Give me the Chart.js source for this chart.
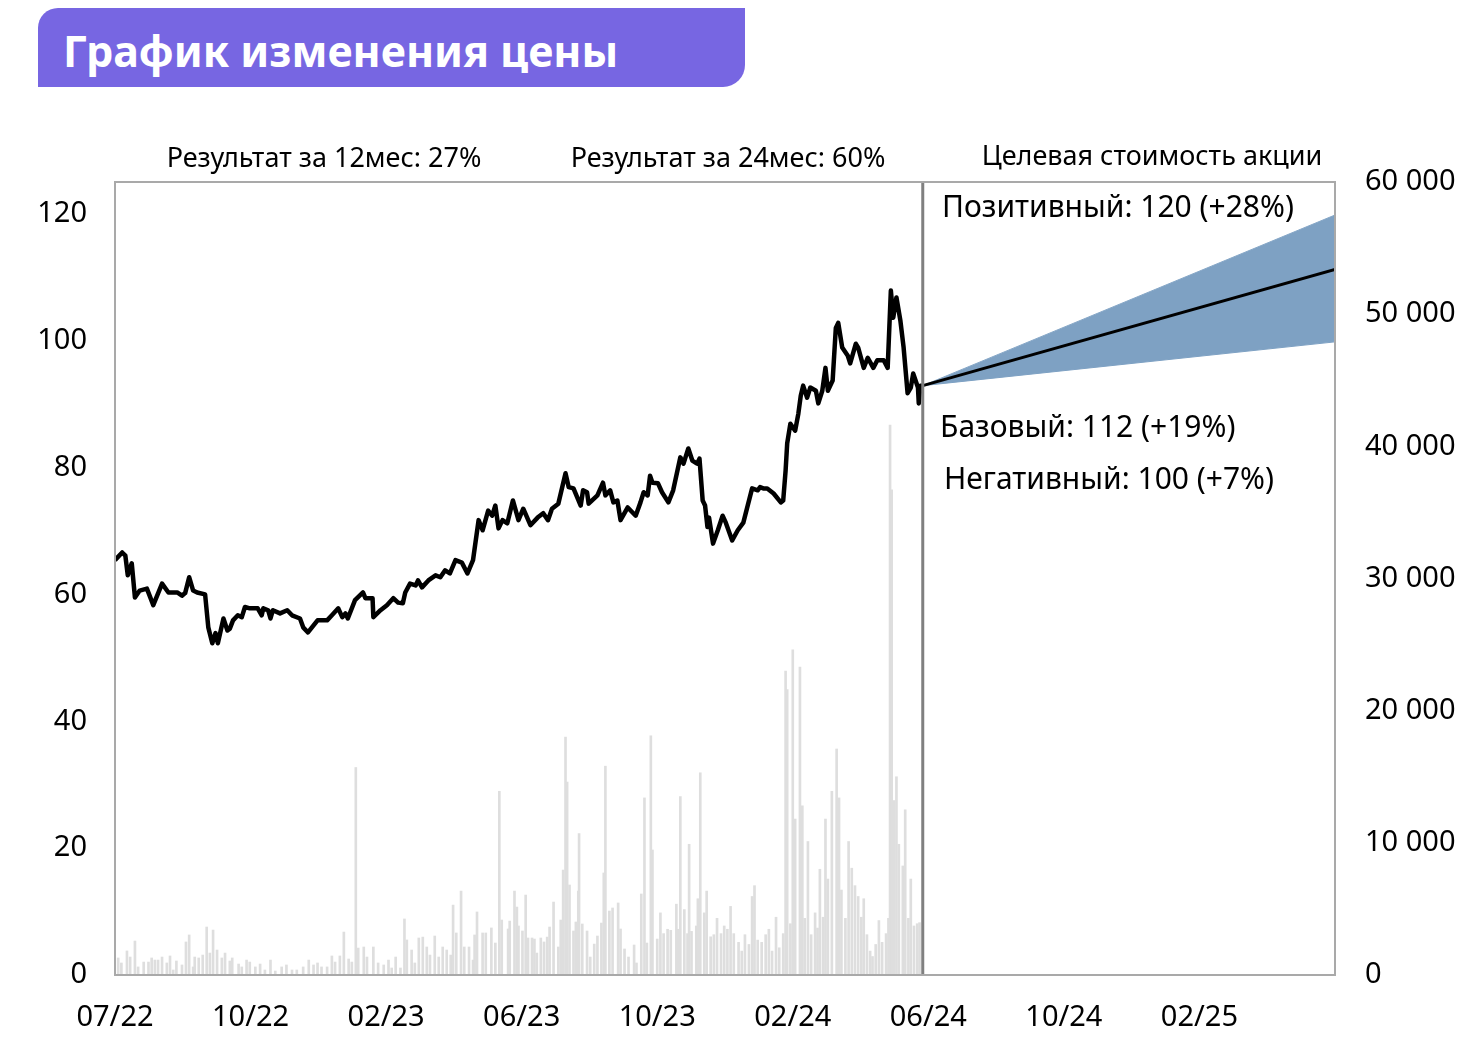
<!DOCTYPE html>
<html lang="ru">
<head>
<meta charset="utf-8">
<title>График изменения цены</title>
<script src="https://cdn.jsdelivr.net/npm/chart.js@4.4.1/dist/chart.umd.min.js"></script>
<style>
  body { margin: 0; background: #fff; }
  .wrap { position: relative; width: 1478px; height: 1056px; }
  .banner {
    position: absolute; left: 38px; top: 8px; width: 707px; height: 79px;
    background: #7766e2; border-radius: 20px 0 22px 0; color: #fff;
    font: bold 43px 'Noto Sans'; line-height: 86px; padding-left: 25px; box-sizing: border-box;
  }
  canvas { position: absolute; left: 0; top: 0; }
</style>
</head>
<body>
<div class="wrap">
  <canvas id="chart" width="1478" height="1056"></canvas>
  <div class="banner">График изменения цены</div>
</div>
<script>
// x axis unit: 17 units between two date labels
const xLabels = ['07/22', '10/22', '02/23', '06/23', '10/23', '02/24', '06/24', '10/24', '02/25'];
const labelStep = 17;
const xMax = 153;

// price (left axis)
const priceT = [0, 0.9, 1.3, 1.6, 2.1, 2.5, 3.1, 4.0, 4.8, 5.9, 6.7, 7.8, 8.4, 8.8, 9.3, 9.8, 10.3, 11.3, 11.7, 12.2,
  12.6, 12.9, 13.6, 14.1, 14.4, 14.8, 15.4, 15.9, 16.3, 16.9, 17.9, 18.4, 18.6, 19.2, 19.5, 19.8, 20.7, 21.6, 22.2, 23.2,
  23.6, 24.2, 25.4, 26.6, 27.2, 28.0, 28.5, 28.9, 29.2, 30.1, 31.1, 31.4, 32.3, 32.4, 33.3, 34.1, 34.9, 35.5, 36.1, 36.4,
  37.0, 37.7, 38.0, 38.5, 39.3, 40.2, 40.8, 41.4, 42.0, 42.7, 43.5, 44.2, 44.9, 45.6, 46.1, 46.8, 47.3, 47.7, 48.1, 48.6,
  49.2, 49.9, 50.6, 51.2, 52.1, 53.0, 53.7, 54.3, 54.8, 55.6, 56.5, 56.9, 57.5, 58.4, 58.7, 59.2, 59.4, 60.5, 61.2, 61.5,
  62.1, 62.5, 63.0, 63.4, 64.3, 65.3, 65.9, 66.3, 66.8, 67.1, 67.4, 68.1, 68.6, 69.4, 70.0, 70.9, 71.3, 71.9, 72.4, 73.0,
  73.3, 73.7, 74.0, 74.3, 74.5, 75.0, 75.6, 76.2, 76.6, 77.4, 78.1, 78.8, 79.9, 80.6, 80.9, 81.3, 81.8, 82.6, 83.5, 83.8,
  84.1, 84.3, 84.7, 85.3, 85.7, 86.0, 86.3, 86.8, 87.2, 87.9, 88.2, 88.7, 89.1, 89.4, 90.0, 90.4, 90.7, 91.2, 91.9, 92.2,
  92.9, 93.2, 93.9, 94.4, 95.1, 95.6, 96.4, 96.9, 97.3, 97.6, 98.0, 98.5, 98.9, 99.4, 99.8, 100.1, 100.7, 100.8, 101.0, 101.3];
const priceV = [65.4, 66.6, 66.1, 63.0, 64.9, 59.5, 60.6, 60.9, 58.3, 61.7, 60.3, 60.3, 59.8, 60.2, 62.7, 60.6, 60.3, 60.0, 54.8, 52.3,
  53.9, 52.3, 56.2, 54.3, 54.6, 55.9, 56.7, 56.4, 58.0, 57.8, 57.8, 56.7, 57.8, 57.5, 56.2, 57.5, 57.0, 57.5, 56.7, 56.2,
  54.8, 54.0, 55.9, 55.9, 56.7, 57.8, 56.4, 57.0, 56.2, 59.1, 60.3, 59.4, 59.4, 56.4, 57.5, 58.3, 59.4, 58.7, 58.6, 60.3,
  61.7, 61.4, 62.2, 61.1, 62.2, 63.0, 62.7, 63.8, 63.3, 65.4, 65.0, 63.3, 65.4, 71.7, 70.1, 73.2, 72.4, 74.0, 70.4, 71.7,
  71.2, 74.8, 71.7, 73.5, 70.9, 72.1, 72.8, 71.7, 73.5, 74.3, 79.1, 76.9, 76.7, 74.0, 76.4, 76.1, 74.3, 75.6, 77.6, 75.6,
  76.4, 74.5, 74.8, 71.7, 73.7, 72.4, 74.5, 76.1, 75.6, 78.7, 77.6, 77.5, 76.1, 74.5, 76.4, 81.6, 80.6, 83.0, 81.1, 80.6,
  81.4, 74.8, 74.0, 70.6, 72.1, 68.0, 70.1, 72.4, 71.3, 68.5, 70.1, 71.3, 76.7, 76.4, 76.9, 76.7, 76.7, 75.9, 74.5, 74.8,
  79.5, 83.8, 86.9, 85.8, 88.5, 91.3, 92.9, 91.0, 92.6, 92.1, 90.1, 92.1, 95.7, 92.1, 93.7, 102.0, 102.8, 98.9, 97.6, 96.4,
  99.5, 98.9, 95.7, 97.3, 95.7, 96.9, 96.9, 95.7, 107.9, 103.6, 106.8, 103.1, 98.9, 91.7, 92.6, 94.8, 92.6, 90.1, 92.9, 92.9];

// traded volume (right axis)
const volT = [0.4, 0.8, 1.5, 1.9, 2.5, 2.9, 3.6, 4.2, 4.6, 5.0, 5.4, 5.9, 6.5, 6.9, 7.3, 7.7, 8.4, 8.9, 9.3, 9.8,
  10.0, 10.5, 11.0, 11.5, 11.9, 12.3, 12.8, 13.4, 13.8, 14.4, 14.7, 15.5, 15.9, 16.5, 16.9, 17.6, 18.2, 18.8, 19.5, 20.1,
  20.9, 21.5, 22.2, 22.8, 23.6, 24.3, 24.9, 25.4, 25.9, 26.6, 27.2, 27.6, 28.2, 28.7, 29.3, 29.7, 30.2, 30.5, 31.2, 31.6,
  32.4, 33.0, 33.7, 34.3, 34.7, 35.2, 35.8, 36.3, 36.6, 37.2, 37.6, 38.1, 38.6, 39.1, 39.5, 40.1, 40.6, 41.1, 41.6, 42.1,
  42.4, 42.8, 43.4, 43.8, 44.4, 44.9, 45.1, 45.4, 46.1, 46.5, 47.2, 47.7, 48.2, 48.5, 49.3, 49.5, 50.1, 50.4, 50.6, 51.1,
  51.5, 51.8, 52.3, 52.6, 52.9, 53.4, 53.8, 54.2, 54.5, 55.0, 55.6, 55.9, 56.2, 56.5, 56.7, 57.0, 57.5, 57.8, 58.1, 58.2,
  58.6, 59.2, 59.6, 60.1, 60.5, 61.0, 61.3, 61.5, 62.0, 62.4, 63.1, 63.4, 63.9, 64.4, 65.1, 65.4, 66.0, 66.4, 66.7, 67.2,
  67.4, 68.0, 68.4, 68.8, 69.3, 69.7, 70.4, 70.6, 70.9, 71.4, 71.8, 72.0, 72.3, 72.9, 73.1, 73.4, 73.9, 74.2, 74.7, 75.1,
  75.5, 76.0, 76.4, 76.8, 77.2, 77.6, 78.2, 78.6, 79.0, 79.5, 79.9, 80.2, 80.6, 81.1, 81.6, 82.0, 82.4, 82.9, 83.3, 83.8,
  84.1, 84.3, 84.7, 85.0, 85.3, 85.9, 86.2, 86.5, 86.9, 87.3, 87.8, 88.1, 88.4, 88.8, 89.1, 89.4, 89.9, 90.5, 90.8, 91.1,
  91.6, 92.0, 92.4, 92.8, 93.2, 93.6, 93.9, 94.3, 94.7, 95.0, 95.4, 95.8, 96.2, 96.7, 97.0, 97.2, 97.4, 97.7, 98.0, 98.3,
  98.8, 99.1, 99.5, 99.8, 100.2, 100.6, 100.9];
const volV = [1290, 910, 1820, 1360, 2570, 610, 980, 980, 1290, 1130, 1130, 1360, 910, 1440, 380, 1060, 760, 2500, 3030, 610,
  1360, 1290, 1510, 3630, 1660, 3400, 1890, 1290, 1660, 1060, 1290, 830, 610, 1130, 980, 610, 830, 380, 1130, 300,
  610, 760, 380, 380, 610, 1130, 760, 910, 610, 610, 1440, 980, 1440, 3250, 1210, 980, 15700, 2040, 2120, 1360,
  2120, 910, 760, 1130, 530, 1360, 530, 4240, 2650, 1890, 910, 2800, 2870, 2120, 1510, 2950, 1360, 2120, 1890, 1510,
  5290, 3180, 6350, 2120, 2120, 1130, 3030, 4770, 3180, 3180, 3560, 2420, 13900, 4160, 3480, 4080, 6350, 5140, 3710, 3330,
  6050, 2800, 2800, 2720, 1660, 2800, 2500, 2870, 3630, 5520, 2120, 4160, 7940, 18000, 14600, 6810, 3330, 4010, 6350, 10700,
  3860, 3330, 1360, 2340, 2950, 3930, 7720, 15800, 4840, 5070, 5450, 3480, 1970, 1360, 2270, 910, 6130, 13400, 2420, 18100,
  9460, 2720, 4700, 3130, 3460, 3380, 5360, 3460, 13500, 4950, 3130, 9890, 3300, 3710, 5770, 15300, 4700, 6350, 2890, 3050,
  4290, 3130, 3710, 3460, 5190, 3130, 2470, 1810, 3050, 2310, 5940, 6760, 2640, 2470, 3050, 3460, 1810, 4370, 2060, 3130,
  23000, 21600, 3880, 24600, 11800, 23300, 12800, 4290, 10100, 3050, 4700, 3550, 8000, 4370, 11800, 7260, 13900, 17100, 13400, 6430,
  4290, 10100, 8080, 6760, 5940, 4370, 5770, 3050, 1810, 1400, 2310, 4120, 2470, 3130, 4290, 41600, 36700, 13200, 15000, 9890,
  8250, 12500, 4290, 7260, 3710, 3880, 3960];

// target price scenarios
const fcT = [101.3, 153];
const fcHigh = [92.9, 119.8];
const fcBase = [92.9, 111.2];
const fcLow = [92.9, 99.8];

const toXY = (xs, ys) => xs.map((x, i) => ({ x: x, y: ys[i] }));
const FONT = 'Noto Sans';

const overlay = {
  id: 'overlay',
  afterDatasetsDraw(chart) {
    const { ctx, chartArea: a, scales } = chart;
    const sx = scales.x.getPixelForValue(fcT[0]);
    ctx.save();
    // forecast divider
    ctx.strokeStyle = '#808080';
    ctx.lineWidth = 3;
    ctx.beginPath();
    ctx.moveTo(sx, a.top);
    ctx.lineTo(sx, a.bottom);
    ctx.stroke();
    // plot frame
    ctx.strokeStyle = '#a9a9a9';
    ctx.lineWidth = 2;
    ctx.strokeRect(a.left, a.top, a.right - a.left, a.bottom - a.top);

    ctx.fillStyle = '#000';
    ctx.textBaseline = 'middle';
    ctx.textAlign = 'center';
    ctx.font = '27px "' + FONT + '"';
    ctx.fillText('Результат за 12мес: 27%', 324, 159);
    ctx.fillText('Результат за 24мес: 60%', 728, 159);
    ctx.fillText('Целевая стоимость акции', 1152, 157);

    ctx.textAlign = 'left';
    ctx.font = '30px "' + FONT + '"';
    ctx.fillText('Позитивный: 120 (+28%)', 942, 208);
    ctx.fillText('Базовый: 112 (+19%)', 940, 428);
    ctx.fillText('Негативный: 100 (+7%)', 944, 480);
    ctx.restore();
  }
};

const tickFont = { family: FONT, size: 29 };

new Chart(document.getElementById('chart'), {
  type: 'bar',
  data: {
    datasets: [
      {
        type: 'line',
        data: toXY(priceT, priceV),
        yAxisID: 'y',
        borderColor: '#000',
        borderWidth: 4.5,
        borderJoinStyle: 'round',
        pointRadius: 0,
        tension: 0,
        order: 1
      },
      {
        type: 'line',
        data: toXY(fcT, fcBase),
        yAxisID: 'y',
        borderColor: '#000',
        borderWidth: 3,
        pointRadius: 0,
        order: 1
      },
      {
        type: 'line',
        data: toXY(fcT, fcHigh),
        yAxisID: 'y',
        borderColor: '#86a7c7',
        borderWidth: 1,
        backgroundColor: '#7ea1c3',
        fill: '+1',
        pointRadius: 0,
        order: 2
      },
      {
        type: 'line',
        data: toXY(fcT, fcLow),
        yAxisID: 'y',
        borderColor: '#7ea1c3',
        borderWidth: 1,
        pointRadius: 0,
        order: 2
      },
      {
        type: 'bar',
        data: toXY(volT, volV),
        yAxisID: 'y1',
        backgroundColor: '#dedede',
        barThickness: 2,
        order: 3
      }
    ]
  },
  options: {
    responsive: false,
    animation: false,
    layout: { padding: { top: 182, left: 0, right: 0, bottom: 0 } },
    plugins: {
      legend: { display: false },
      tooltip: { enabled: false }
    },
    scales: {
      x: {
        type: 'linear',
        min: 0,
        max: xMax,
        offset: false,
        grid: { display: false },
        border: { display: false },
        afterBuildTicks: (scale) => {
          scale.ticks = xLabels.map((_, i) => ({ value: i * labelStep }));
        },
        afterFit: (scale) => { scale.height = 81; },
        ticks: {
          autoSkip: false,
          maxRotation: 0,
          padding: 17,
          color: '#000',
          font: tickFont,
          callback: (v) => xLabels[Math.round(v / labelStep)]
        }
      },
      y: {
        position: 'left',
        min: 0,
        max: 125,
        grid: { display: false },
        border: { display: false },
        afterFit: (scale) => { scale.width = 115; },
        ticks: {
          stepSize: 20,
          includeBounds: false,
          padding: 20,
          color: '#000',
          font: tickFont
        }
      },
      y1: {
        position: 'right',
        min: 0,
        max: 60000,
        grid: { display: false },
        border: { display: false },
        afterFit: (scale) => { scale.width = 143; },
        ticks: {
          stepSize: 10000,
          padding: 22,
          color: '#000',
          font: tickFont,
          callback: (v) => String(v).replace(/\B(?=(\d{3})+(?!\d))/g, ' ')
        }
      }
    }
  },
  plugins: [overlay]
});
</script>
</body>
</html>
